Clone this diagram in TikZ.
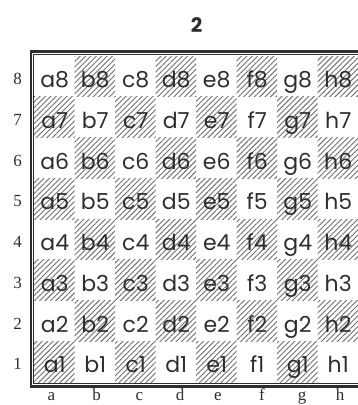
\documentclass[tikz,border=0pt]{standalone}
\usepackage{fontspec}
\setmainfont{Liberation Serif}
\newfontfamily\sqfont{Poppins}
\usetikzlibrary{patterns.meta}
\definecolor{ink}{HTML}{2E2E2E}
\definecolor{hatch}{HTML}{707070}
\tikzset{
  sqlabel/.style={font=\sqfont\fontsize{22}{22}\selectfont, text=ink, inner sep=0pt, anchor=base},
  darksq/.style={pattern={Lines[angle=45,distance=3.8pt,line width=0.9pt]}, pattern color=hatch},
  coordlabel/.style={font=\fontsize{17}{17}\selectfont, text=ink, inner sep=0pt, anchor=base},
  titlelabel/.style={font=\sqfont\bfseries\fontsize{20}{20}\selectfont, text=ink, inner sep=0pt, anchor=base},
  outerframe/.style={draw=ink, line width=2.4pt},
  innerframe/.style={draw=ink, line width=0.8pt},
}
\begin{document}
\begin{tikzpicture}[x=1pt,y=-1pt]
\useasboundingbox (0,0) rectangle (358,405);
\clip (0,0) rectangle (358,405);
\fill[white] (0,0) rectangle (358,405);
\node[titlelabel] (title) at (196.5,32) {2};
% squares
\foreach \f [count=\i from 0] in {a,b,c,d,e,f,g,h} {
  \foreach \r in {1,...,8} {
    \pgfmathsetmacro{\xl}{34+40.5*\i}
    \pgfmathsetmacro{\yt}{56+40.75*(8-\r)}
    \pgfmathtruncatemacro{\parity}{mod(\i+\r,2)}
    \ifnum\parity=1
      \fill[darksq] (\xl,\yt) rectangle ++(40.5,40.75);
    \fi
    \node[sqlabel] (sq\f\r) at ({\xl+20.75},{\yt+31.5}) {\f\r};
  }
}
\foreach \f/\xc in {a/51.5,b/96.5,c/139.5,d/180,e/218,f/262,g/302,h/340} {
  \node[coordlabel] (file\f) at (\xc,400.5) {\f};
}
\foreach \r in {1,...,8} {
  \pgfmathsetmacro{\yc}{56+40.75*(8-\r)+28.5}
  \node[coordlabel] (rank\r) at (17.5,\yc) {\r};
}
% frame
\draw[innerframe] (362,54.6) -- (33.6,54.6) -- (33.6,383.4) -- (362,383.4);
\draw[outerframe] (362,51.5) -- (30.8,51.5) -- (30.8,386.6) -- (362,386.6);
\end{tikzpicture}
\end{document}
